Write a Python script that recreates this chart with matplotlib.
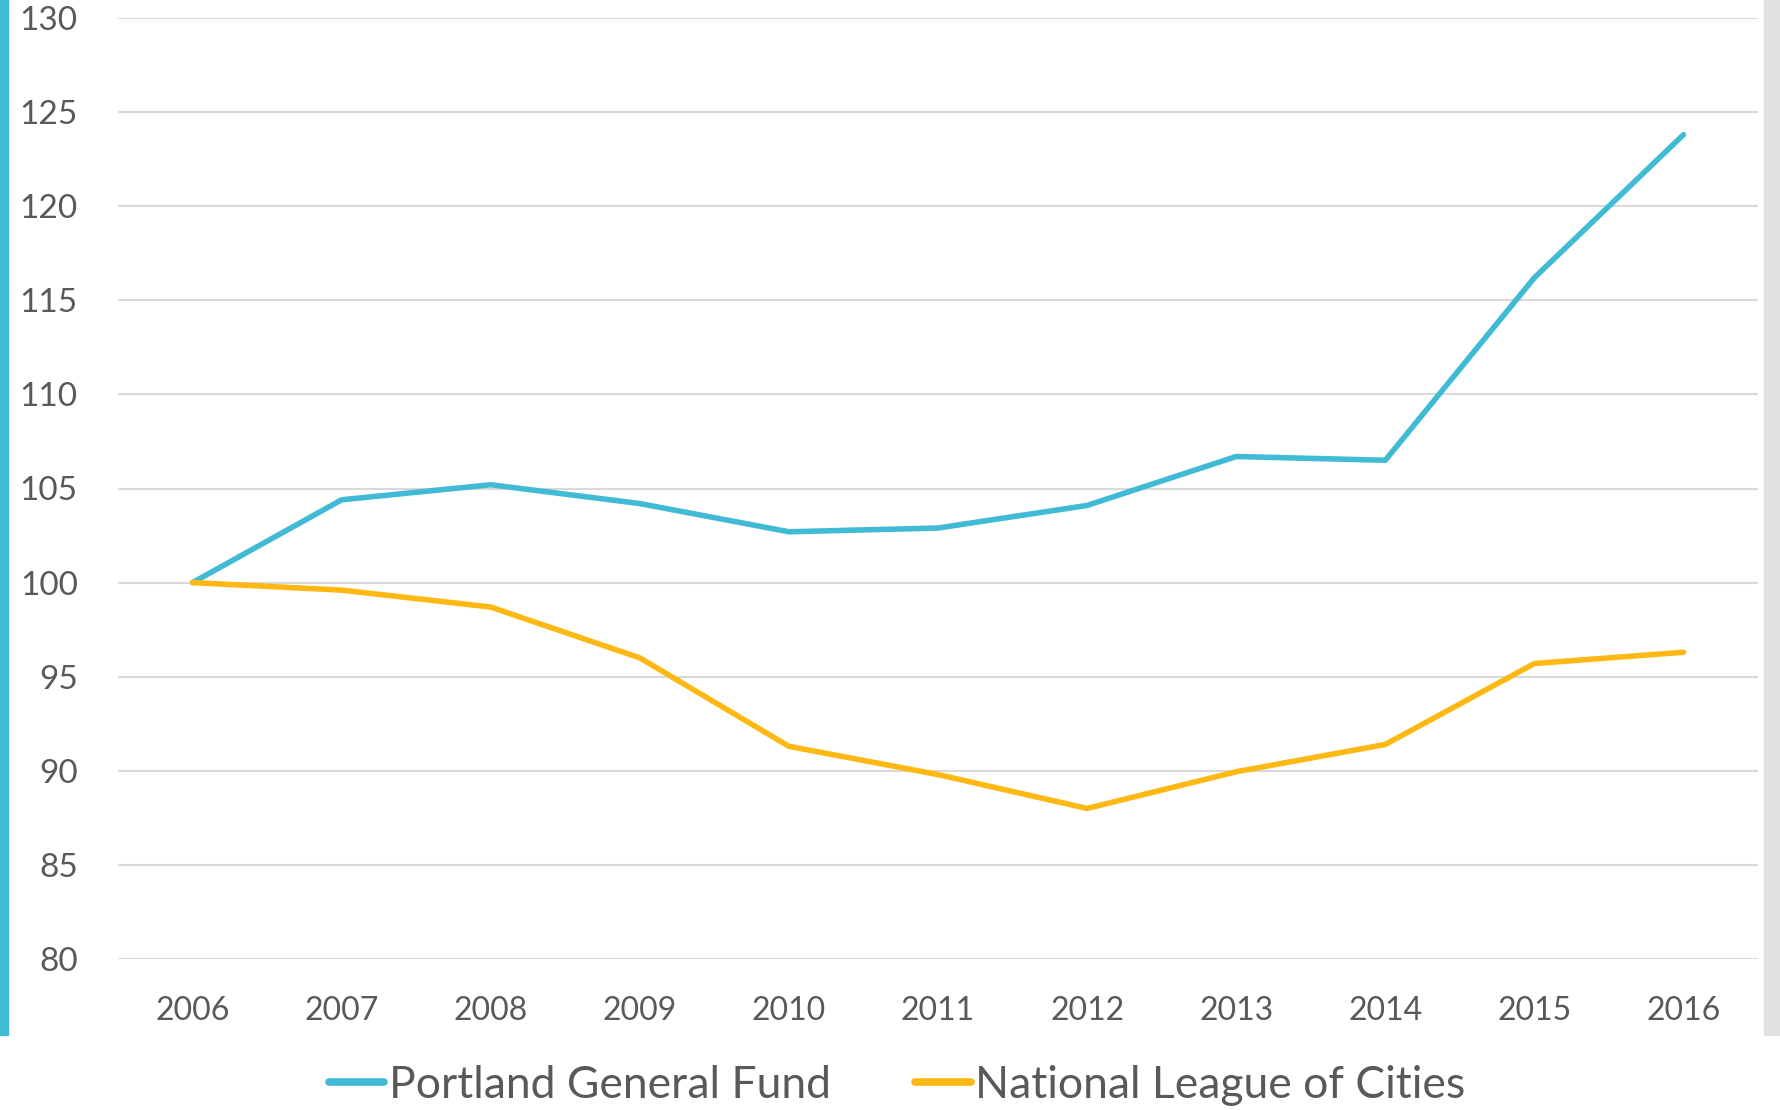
import matplotlib
matplotlib.use("Agg")
import matplotlib.pyplot as plt
from matplotlib.patches import Rectangle

years = ["2006", "2007", "2008", "2009", "2010", "2011", "2012", "2013", "2014", "2015", "2016"]
portland = [100.0, 104.4, 105.2, 104.2, 102.7, 102.9, 104.1, 106.7, 106.5, 116.2, 123.8]
nlc = [100.0, 99.6, 98.7, 96.0, 91.3, 89.8, 88.0, 89.95, 91.4, 95.7, 96.3]
yticks = [80, 85, 90, 95, 100, 105, 110, 115, 120, 125, 130]
series_names = ["Portland General Fund", "National League of Cities"]

BLUE = "#41BBD5"
ORANGE = "#FDB813"
TEXT = "#595959"

fig = plt.figure(figsize=(17.8, 11.1), dpi=100)
ax = fig.add_axes([118/1780, 1-959/1110, (1758-118)/1780, (959-18)/1110])

x = list(range(len(years)))
ax.plot(x, portland, color=BLUE, lw=4.0, solid_capstyle="round", label=series_names[0], zorder=3)
ax.plot(x, nlc, color=ORANGE, lw=4.0, solid_capstyle="round", label=series_names[1], zorder=3)

ax.set_xlim(-0.5, len(years) - 0.5)
ax.set_ylim(80, 130)
ax.set_yticks(yticks)
ax.set_yticklabels([str(v) for v in yticks])
ax.set_xticks(x)
ax.set_xticklabels(years)
ax.grid(axis="y", color="#D9D9D9", lw=1.5)
ax.set_axisbelow(True)
for s in ax.spines.values():
    s.set_visible(False)
ax.tick_params(axis="both", length=0)
ax.tick_params(axis="y", pad=29, labelsize=24, labelcolor=TEXT)
ax.tick_params(axis="x", pad=27, labelsize=23, labelcolor=TEXT)
for t in ax.get_yticklabels() + ax.get_xticklabels():
    t.set_family(["Lato", "DejaVu Sans"])

# decorative side bars
fig.patches.append(Rectangle((0, 1-1035/1110), 8/1780, 1035/1110, transform=fig.transFigure,
                             color=BLUE, zorder=0))
fig.patches.append(Rectangle((1764/1780, 1-1035/1110), 16/1780, 1035/1110, transform=fig.transFigure,
                             color="#E1E1E1", zorder=0))

leg = fig.legend(loc="center", bbox_to_anchor=(897/1780, 1-1085/1110), ncol=2, frameon=False,
                 prop={"family": ["Lato", "DejaVu Sans"], "size": 32},
                 handlelength=1.25, handletextpad=0.1, columnspacing=1.9)
for t in leg.get_texts():
    t.set_color(TEXT)
for h in leg.get_lines():
    h.set_linewidth(5.5)
    h.set_solid_capstyle("round")

fig.savefig("out.png", dpi=100)
